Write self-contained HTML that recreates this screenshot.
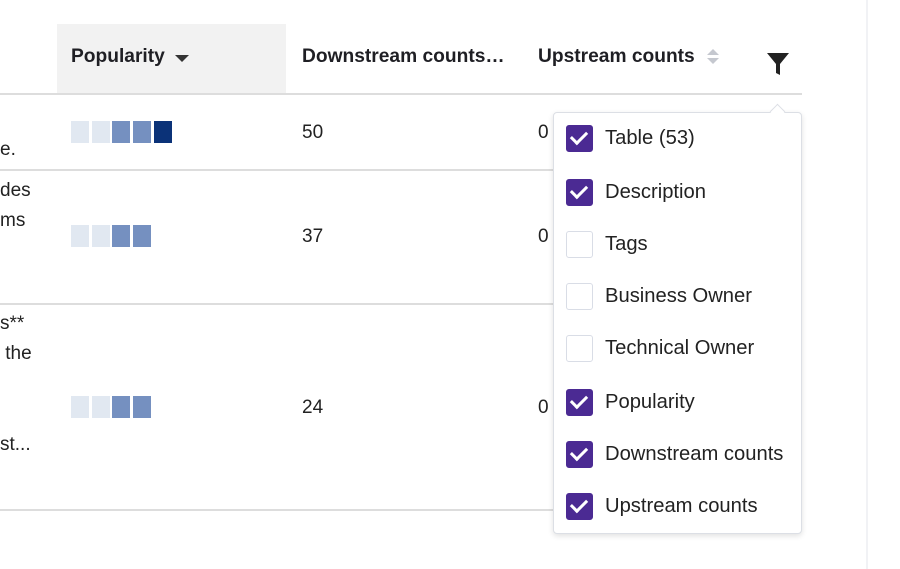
<!DOCTYPE html>
<html><head><style>
body{margin:0;width:900px;height:569px;background:#fff;position:relative;overflow:hidden;font-family:"Liberation Sans",Arial,sans-serif;color:#222}
.a{position:absolute;white-space:nowrap}
.h{font-weight:bold;font-size:19.2px;color:#1f1f24}
.t{font-size:19px;color:#222}
.hl{position:absolute;left:0;width:802px;height:2px;background:#ddd}
.b{position:absolute;width:18px;height:22px}
.l{background:#e1e8f1}.m{background:#7590c0}.d{background:#0b3278}
.cb{position:absolute;left:566px;width:25px;height:25px;border:1px solid #d9dde6;border-radius:3px;background:#fff}
.cb.on{background:#4b2a93;border-color:#4b2a93}
.cb.on:after{content:"";position:absolute;left:7px;top:2px;width:7px;height:13px;border:solid #fff;border-width:0 3px 3px 0;transform:rotate(45deg)}
.lb{position:absolute;left:605px;font-size:20.2px;color:#222;white-space:nowrap}
</style></head><body>
<div class="a" style="left:57px;top:24px;width:229px;height:70px;background:#f2f2f2"></div>
<div class="a h" style="left:71px;top:46px">Popularity</div>
<div class="a" style="left:175px;top:55px;width:0;height:0;border-left:7px solid transparent;border-right:7px solid transparent;border-top:7px solid #333"></div>
<div class="a h" style="left:302px;top:46px">Downstream counts…</div>
<div class="a h" style="left:538px;top:46px">Upstream counts</div>
<div class="a" style="left:707px;top:49px;border-left:6px solid transparent;border-right:6px solid transparent;border-bottom:6px solid #c5c8cf"></div>
<div class="a" style="left:707px;top:58px;border-left:6px solid transparent;border-right:6px solid transparent;border-top:6px solid #c5c8cf"></div>
<svg class="a" style="left:766px;top:52px" width="24" height="24" viewBox="0 0 24 24"><path d="M1 1H23L14 12V23L10 21V12Z" fill="#222"/></svg>
<div class="hl" style="top:93px"></div>
<div class="hl" style="top:169px"></div>
<div class="hl" style="top:303px"></div>
<div class="hl" style="top:509px"></div>
<div class="a" style="left:866px;top:0;width:2px;height:569px;background:#f1f2f5"></div>
<div class="a t" style="left:0;top:139px">e.</div>
<div class="a t" style="left:0;top:180px">des</div>
<div class="a t" style="left:0;top:210px">ms</div>
<div class="a t" style="left:0;top:313px">s**</div>
<div class="a t" style="left:0;top:343px">&nbsp;the</div>
<div class="a t" style="left:0;top:434px">st...</div>
<div class="b l" style="left:71px;top:121px"></div><div class="b l" style="left:92px;top:121px"></div><div class="b m" style="left:112px;top:121px"></div><div class="b m" style="left:133px;top:121px"></div><div class="b d" style="left:154px;top:121px"></div>
<div class="b l" style="left:71px;top:225px"></div><div class="b l" style="left:92px;top:225px"></div><div class="b m" style="left:112px;top:225px"></div><div class="b m" style="left:133px;top:225px"></div>
<div class="b l" style="left:71px;top:396px"></div><div class="b l" style="left:92px;top:396px"></div><div class="b m" style="left:112px;top:396px"></div><div class="b m" style="left:133px;top:396px"></div>
<div class="a t" style="left:302px;top:122px">50</div>
<div class="a t" style="left:302px;top:226px">37</div>
<div class="a t" style="left:302px;top:397px">24</div>
<div class="a t" style="left:538px;top:122px">0</div>
<div class="a t" style="left:538px;top:226px">0</div>
<div class="a t" style="left:538px;top:397px">0</div>
<div class="a" style="left:553px;top:112px;width:247px;height:420px;background:#fff;border:1px solid #dcdfe5;border-radius:4px;box-shadow:0 2px 6px rgba(0,0,0,.12)"></div>
<div class="a" style="left:772px;top:106px;width:10px;height:10px;background:#fff;border-left:1px solid #dcdfe5;border-top:1px solid #dcdfe5;transform:rotate(45deg)"></div>
<div class="cb on" style="top:125px"></div><div class="lb" style="top:127px">Table (53)</div>
<div class="cb on" style="top:179px"></div><div class="lb" style="top:181px">Description</div>
<div class="cb" style="top:231px"></div><div class="lb" style="top:233px">Tags</div>
<div class="cb" style="top:283px"></div><div class="lb" style="top:285px">Business Owner</div>
<div class="cb" style="top:335px"></div><div class="lb" style="top:337px">Technical Owner</div>
<div class="cb on" style="top:389px"></div><div class="lb" style="top:391px">Popularity</div>
<div class="cb on" style="top:441px"></div><div class="lb" style="top:443px">Downstream counts</div>
<div class="cb on" style="top:493px"></div><div class="lb" style="top:495px">Upstream counts</div>
</body></html>
